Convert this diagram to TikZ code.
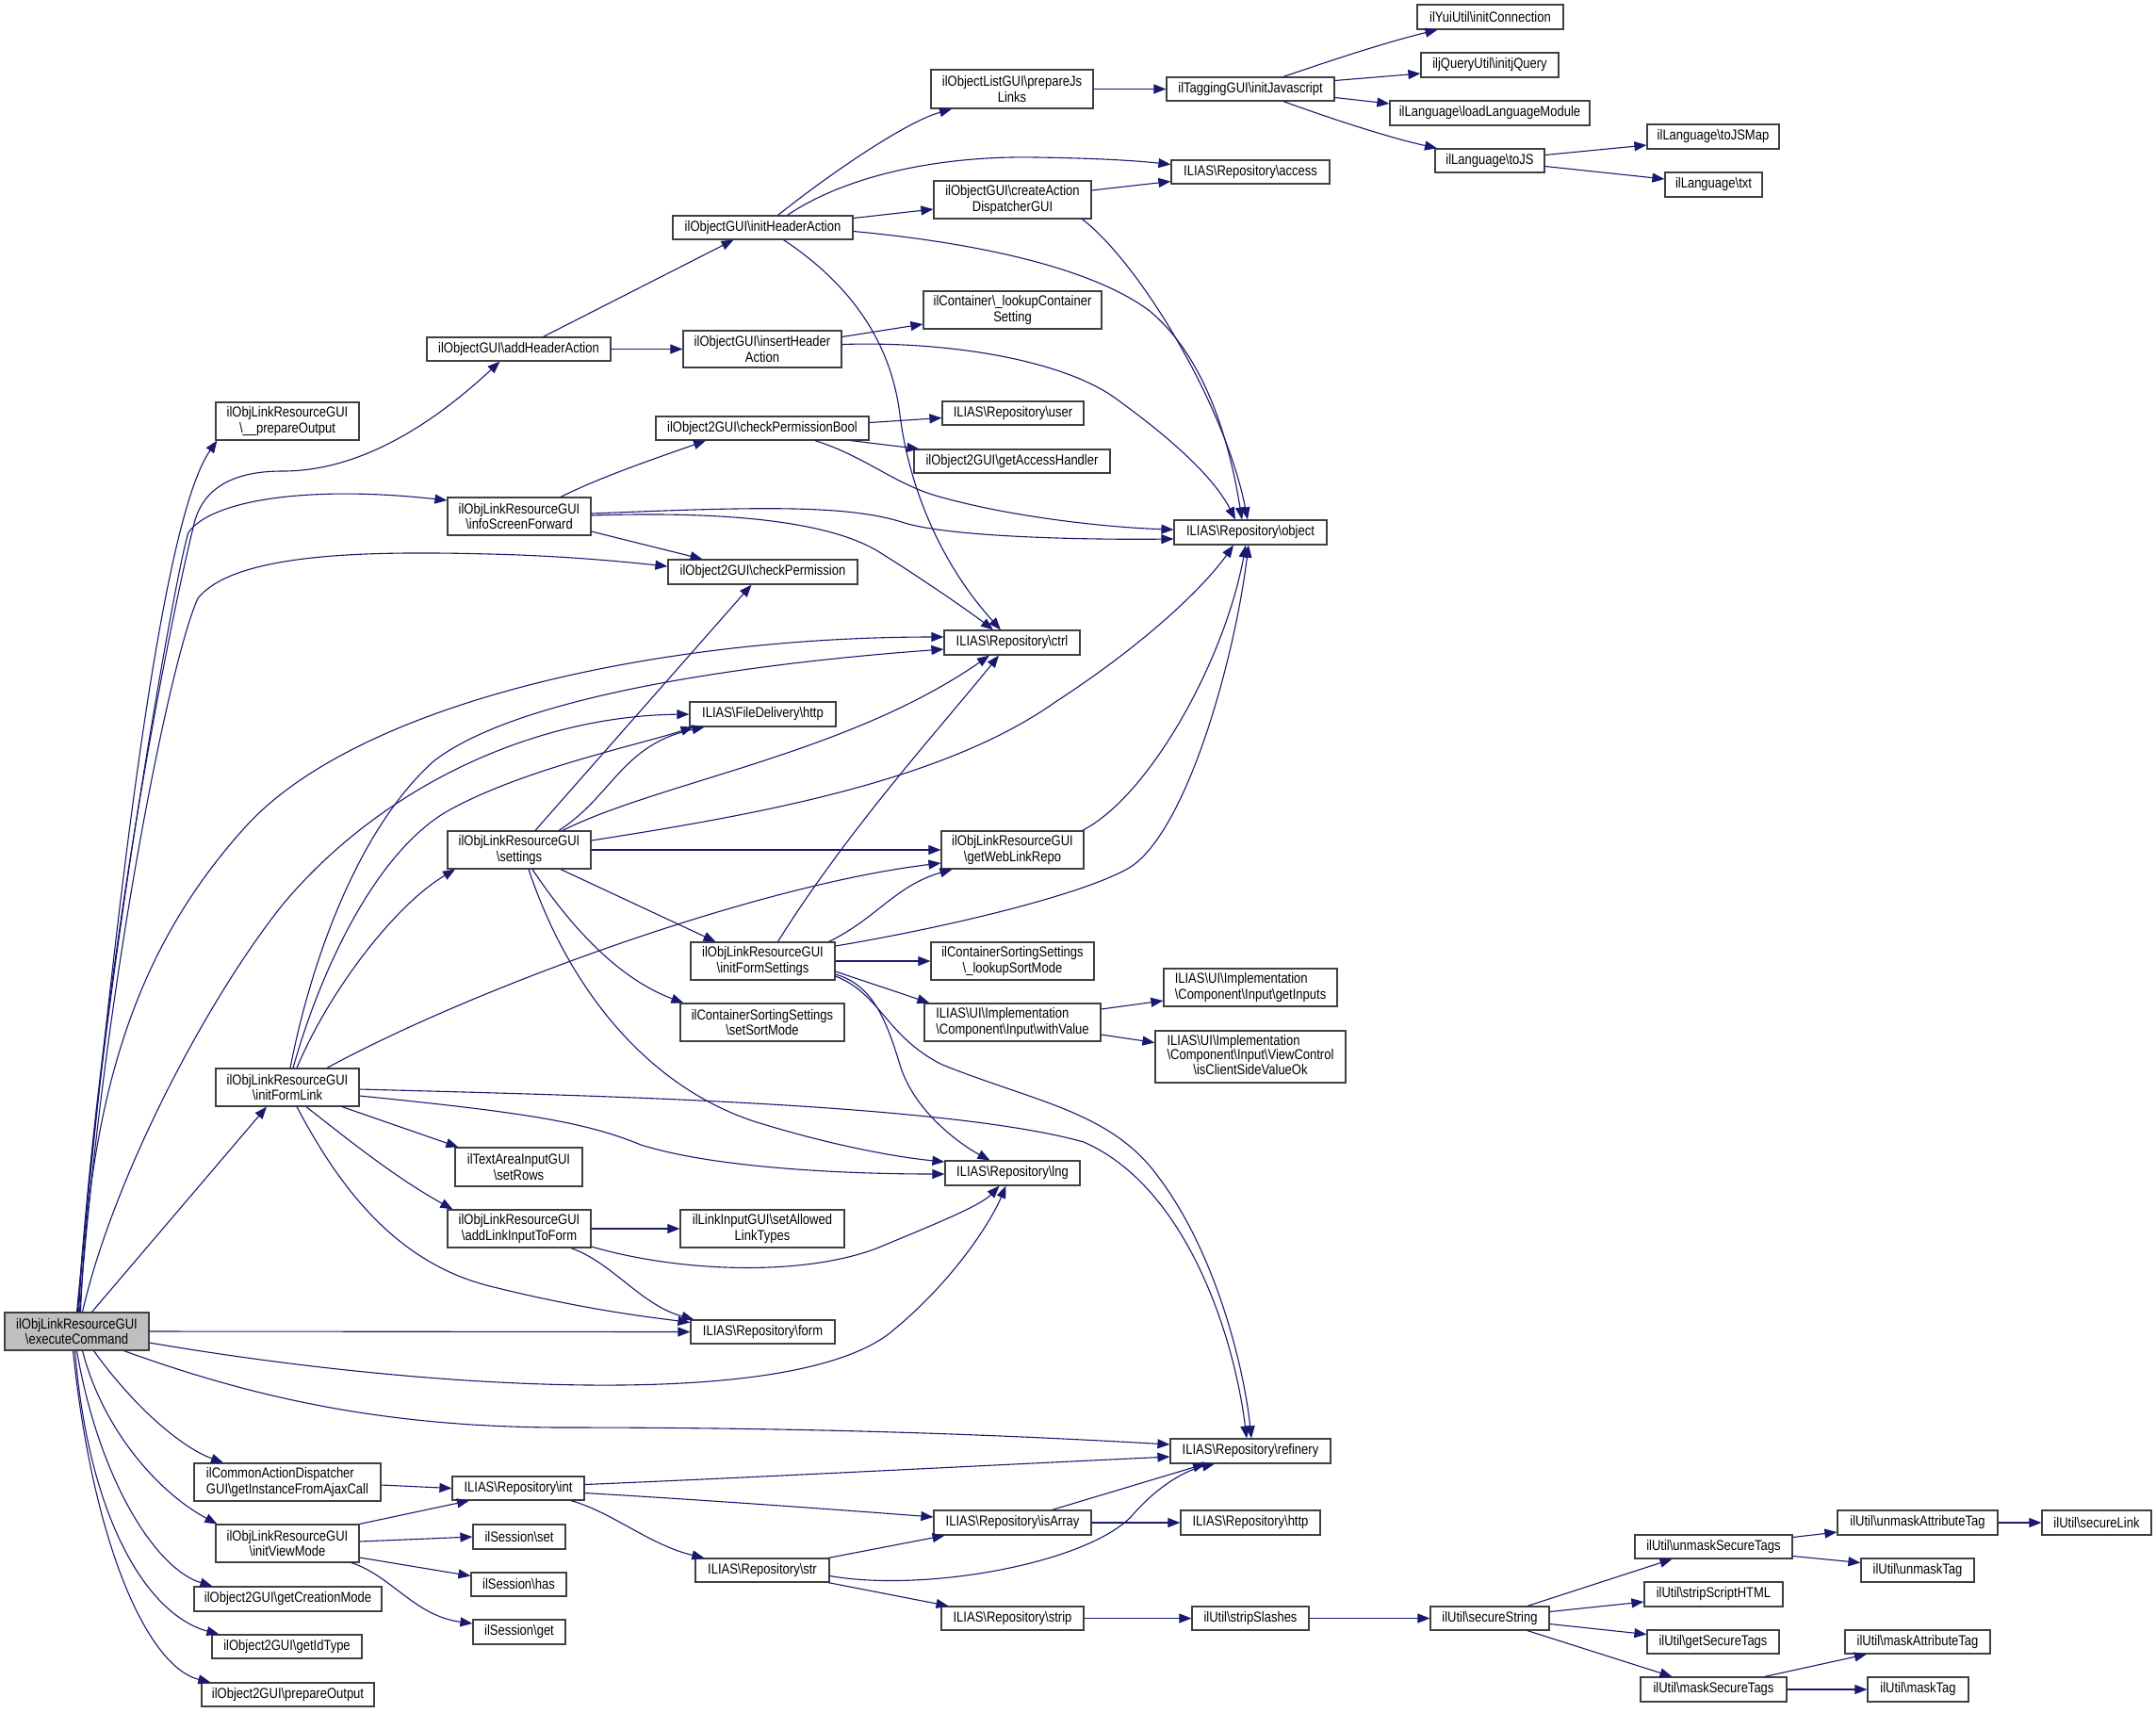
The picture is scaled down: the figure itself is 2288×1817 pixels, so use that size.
\documentclass[tikz,border=0pt]{standalone}
\usepackage{fontspec}
\setmainfont[FakeStretch=0.85]{Liberation Sans}
\usetikzlibrary{arrows.meta}
\definecolor{edgeblue}{HTML}{191970}
\definecolor{nodegray}{HTML}{BFBFBF}
\definecolor{bordergray}{HTML}{404040}
\def\Bsl{\textbackslash}
\def\NdFont{\fontsize{7.65}{7.1}\selectfont}
\begin{document}
\begin{tikzpicture}[x=0.5pt,y=-0.5pt,
  nbox/.style={draw=bordergray, line width=0.6pt, fill=white, inner sep=0pt, align=center, font=\NdFont},
  bw/.style={minimum width=#1*0.5pt},
  bh/.style={minimum height=#1*0.5pt},
  cl/.style={draw=edgeblue, line width=0.55pt, -{Triangle[length=6.5pt,width=5pt]}}]
\useasboundingbox (0,0) rectangle (2288,1817);
% rank 0
\node[nbox, fill=nodegray, bw=153, bh=40] (E) at (81.5,1413) {ilObjLinkResourceGUI\\\Bsl executeCommand};
% rank 1
\node[nbox, bw=152, bh=40] (prepOut) at (305,447) {ilObjLinkResourceGUI\\\Bsl\_\_prepareOutput};
\node[nbox, bw=152, bh=40] (IFL) at (305,1154) {ilObjLinkResourceGUI\\\Bsl initFormLink};
\node[nbox, bw=198, bh=40, align=left] (ajax) at (305,1573) {ilCommonActionDispatcher\\GUI\Bsl getInstanceFromAjaxCall};
\node[nbox, bw=152, bh=40] (IVM) at (305,1638) {ilObjLinkResourceGUI\\\Bsl initViewMode};
\node[nbox, bw=199, bh=26] (gcm) at (305.5,1697) {ilObject2GUI\Bsl getCreationMode};
\node[nbox, bw=159, bh=25] (git) at (304.5,1747.5) {ilObject2GUI\Bsl getIdType};
\node[nbox, bw=183, bh=25] (pO) at (305.5,1798.5) {ilObject2GUI\Bsl prepareOutput};
% rank 2
\node[nbox, bw=195, bh=25] (addHA) at (550.5,370.5) {ilObjectGUI\Bsl addHeaderAction};
\node[nbox, bw=152, bh=40] (ISF) at (551,548) {ilObjLinkResourceGUI\\\Bsl infoScreenForward};
\node[nbox, bw=152, bh=40] (settings) at (551,902) {ilObjLinkResourceGUI\\\Bsl settings};
\node[nbox, bw=135, bh=41] (setRows) at (550.5,1238.5) {ilTextAreaInputGUI\\\Bsl setRows};
\node[nbox, bw=152, bh=40] (addLink) at (551,1304) {ilObjLinkResourceGUI\\\Bsl addLinkInputToForm};
\node[nbox, bw=140, bh=25] (int) at (550,1579.5) {ILIAS\Bsl Repository\Bsl int};
\node[nbox, bw=98, bh=26] (Sset) at (551,1631) {ilSession\Bsl set};
\node[nbox, bw=101, bh=25] (Shas) at (550.5,1681.5) {ilSession\Bsl has};
\node[nbox, bw=98, bh=26] (Sget) at (551,1732) {ilSession\Bsl get};
% rank 3
\node[nbox, bw=191, bh=25] (IHA) at (809.5,241.5) {ilObjectGUI\Bsl initHeaderAction};
\node[nbox, bw=168, bh=39] (insertHA) at (809,370.5) {ilObjectGUI\Bsl insertHeader\\Action};
\node[nbox, bw=226, bh=25] (CPB) at (809,454.5) {ilObject2GUI\Bsl checkPermissionBool};
\node[nbox, bw=201, bh=26] (CP) at (809.5,607) {ilObject2GUI\Bsl checkPermission};
\node[nbox, bw=155, bh=26] (fdhttp) at (809.5,758) {ILIAS\Bsl FileDelivery\Bsl http};
\node[nbox, bw=153, bh=40] (IFS) at (809.5,1020) {ilObjLinkResourceGUI\\\Bsl initFormSettings};
\node[nbox, bw=174, bh=40] (setSM) at (809,1085) {ilContainerSortingSettings\\\Bsl setSortMode};
\node[nbox, bw=174, bh=40] (setAllowed) at (809,1304) {ilLinkInputGUI\Bsl setAllowed\\LinkTypes};
\node[nbox, bw=153, bh=25] (form) at (809.5,1413.5) {ILIAS\Bsl Repository\Bsl form};
\node[nbox, bw=142, bh=25] (str) at (809,1666.5) {ILIAS\Bsl Repository\Bsl str};
% rank 4
\node[nbox, bw=172, bh=41] (prepJs) at (1074,94.5) {ilObjectListGUI\Bsl prepareJs\\Links};
\node[nbox, bw=167, bh=40] (createAD) at (1074.5,212) {ilObjectGUI\Bsl createAction\\DispatcherGUI};
\node[nbox, bw=189, bh=40] (lookupCS) at (1074.5,329) {ilContainer\Bsl\_lookupContainer\\Setting};
\node[nbox, bw=150, bh=25] (user) at (1075,438.5) {ILIAS\Bsl Repository\Bsl user};
\node[nbox, bw=208, bh=25] (getAH) at (1074,489.5) {ilObject2GUI\Bsl getAccessHandler};
\node[nbox, bw=144, bh=26] (ctrl) at (1074,682) {ILIAS\Bsl Repository\Bsl ctrl};
\node[nbox, bw=151, bh=40] (webLink) at (1074.5,902) {ilObjLinkResourceGUI\\\Bsl getWebLinkRepo};
\node[nbox, bw=173, bh=40] (lookupSM) at (1074.5,1020) {ilContainerSortingSettings\\\Bsl\_lookupSortMode};
\node[nbox, bw=187, bh=40, align=left] (withValue) at (1074.5,1085) {ILIAS\Bsl UI\Bsl Implementation\\\Bsl Component\Bsl Input\Bsl withValue};
\node[nbox, bw=143, bh=26] (lng) at (1074.5,1245) {ILIAS\Bsl Repository\Bsl lng};
\node[nbox, bw=167, bh=26] (isArray) at (1074.5,1616) {ILIAS\Bsl Repository\Bsl isArray};
\node[nbox, bw=151, bh=25] (strip) at (1074.5,1717.5) {ILIAS\Bsl Repository\Bsl strip};
% rank 5
\node[nbox, bw=178, bh=25] (initJS) at (1327,94.5) {ilTaggingGUI\Bsl initJavascript};
\node[nbox, bw=168, bh=25] (access) at (1327,182.5) {ILIAS\Bsl Repository\Bsl access};
\node[nbox, bw=162, bh=26] (object) at (1327,565) {ILIAS\Bsl Repository\Bsl object};
\node[nbox, bw=184, bh=40, align=left] (getInputs) at (1327,1048) {ILIAS\Bsl UI\Bsl Implementation\\\Bsl Component\Bsl Input\Bsl getInputs};
\node[nbox, bw=202, bh=55] (isClient) at (1327,1121.5) {\begin{tabular}{@{}l@{}}ILIAS\Bsl UI\Bsl Implementation\\\Bsl Component\Bsl Input\Bsl ViewControl\\\multicolumn{1}{@{}c@{}}{\Bsl isClientSideValueOk}\end{tabular}};
\node[nbox, bw=170, bh=26] (refinery) at (1327,1540) {ILIAS\Bsl Repository\Bsl refinery};
\node[nbox, bw=148, bh=26] (rhttp) at (1327,1616) {ILIAS\Bsl Repository\Bsl http};
\node[nbox, bw=124, bh=25] (stripSlashes) at (1327,1717.5) {ilUtil\Bsl stripSlashes};
% rank 6
\node[nbox, bw=155, bh=26] (initConn) at (1581.5,18) {ilYuiUtil\Bsl initConnection};
\node[nbox, bw=146, bh=26] (initjQ) at (1581,69) {iljQueryUtil\Bsl initjQuery};
\node[nbox, bw=212, bh=26] (loadLM) at (1581,120) {ilLanguage\Bsl loadLanguageModule};
\node[nbox, bw=116, bh=25] (toJS) at (1581,170.5) {ilLanguage\Bsl toJS};
\node[nbox, bw=126, bh=25] (secureString) at (1581,1717.5) {ilUtil\Bsl secureString};
% rank 7
\node[nbox, bw=140, bh=26] (toJSMap) at (1818,145) {ilLanguage\Bsl toJSMap};
\node[nbox, bw=103, bh=26] (txt) at (1818.5,196) {ilLanguage\Bsl txt};
\node[nbox, bw=167, bh=25] (unmaskST) at (1818.5,1641.5) {ilUtil\Bsl unmaskSecureTags};
\node[nbox, bw=147, bh=26] (stripSH) at (1818.5,1692) {ilUtil\Bsl stripScriptHTML};
\node[nbox, bw=140, bh=25] (getST) at (1818,1742.5) {ilUtil\Bsl getSecureTags};
\node[nbox, bw=155, bh=26] (maskST) at (1818.5,1793) {ilUtil\Bsl maskSecureTags};
% rank 8
\node[nbox, bw=170, bh=26] (unmaskAT) at (2035,1616) {ilUtil\Bsl unmaskAttributeTag};
\node[nbox, bw=120, bh=25] (unmaskTag) at (2035,1666.5) {ilUtil\Bsl unmaskTag};
\node[nbox, bw=154, bh=25] (maskAT) at (2035,1742.5) {ilUtil\Bsl maskAttributeTag};
\node[nbox, bw=107, bh=26] (maskTag) at (2035.5,1793) {ilUtil\Bsl maskTag};
% rank 9
\node[nbox, bw=116, bh=26] (secureLink) at (2225,1616) {ilUtil\Bsl secureLink};

% ---- edges from executeCommand
\draw[cl] (E.north) .. controls (115,1050) and (165,560) .. ([xshift=1pt]prepOut.south west);
\draw[cl] ([xshift=0.5pt]E.north) .. controls (110,1000) and (185,640) .. (205,560) .. controls (215,510) and (260,500) .. (300,500) .. controls (390,500) and (470,440) .. ([xshift=-10pt]addHA.south);
\draw[cl] ([xshift=1pt]E.north) .. controls (100,1100) and (185,610) .. (200,565) .. controls (225,530) and (330,515) .. ([yshift=8.5pt]ISF.west);
\draw[cl] ([xshift=1.5pt]E.north) .. controls (110,1050) and (180,700) .. (210,635) .. controls (250,585) and (400,585) .. (520,588) .. controls (600,590) and (660,596) .. ([yshift=3pt]CP.west);
\draw[cl] ([xshift=2pt]E.north) .. controls (95,1150) and (150,1000) .. (260,878) .. controls (380,745) and (700,676) .. ([yshift=3pt]ctrl.west);
\draw[cl] ([xshift=3pt]E.north) .. controls (120,1250) and (220,1060) .. (300,960) .. controls (400,840) and (560,760) .. (fdhttp.west);
\draw[cl] ([xshift=8pt]E.north) -- ([xshift=-11pt]IFL.south);
\draw[cl] (E.east) -- (form.west);
\draw[cl] ([yshift=-6pt]E.east) .. controls (450,1475) and (850,1500) .. (950,1410) .. controls (1010,1360) and (1050,1300) .. ([xshift=-3.5pt]lng.south);
\draw[cl] ([xshift=25pt]E.south) .. controls (260,1480) and (400,1515) .. (600,1515) .. controls (900,1515) and (1100,1525) .. ([yshift=3.5pt]refinery.west);
\draw[cl] ([xshift=9pt]E.south) .. controls (140,1490) and (190,1535) .. ([xshift=-34pt]ajax.north);
\draw[cl] ([xshift=3pt]E.south) .. controls (110,1520) and (170,1585) .. ([xshift=1pt]IVM.north west);
\draw[cl] (E.south) .. controls (105,1570) and (165,1665) .. ([xshift=10pt]gcm.north west);
\draw[cl] ([xshift=-1pt]E.south) .. controls (95,1620) and (160,1715) .. ([xshift=4pt]git.north west);
\draw[cl] ([xshift=-2pt]E.south) .. controls (100,1650) and (160,1770) .. ([xshift=5pt]pO.north west);

% ---- initFormLink
\draw[cl] ([xshift=5pt]IFL.north) .. controls (350,1050) and (420,960) .. ([xshift=-34pt]settings.south);
\draw[cl] ([xshift=1.5pt]IFL.north) .. controls (330,1020) and (380,880) .. (460,808) .. controls (560,730) and (850,700) .. ([yshift=-3.5pt]ctrl.west);
\draw[cl] ([xshift=3pt]IFL.north) .. controls (340,1030) and (400,900) .. (480,858) .. controls (560,815) and (680,790) .. ([xshift=-37pt]fdhttp.south);
\draw[cl] ([xshift=21pt]IFL.north) .. controls (500,1050) and (800,940) .. ([yshift=-7pt]webLink.west);
\draw[cl] ([xshift=29pt]IFL.south) -- ([xshift=2pt]setRows.north west);
\draw[cl] ([xshift=10pt]IFL.south) .. controls (370,1210) and (420,1250) .. ([xshift=3pt]addLink.north west);
\draw[cl] ([yshift=-4.5pt]IFL.east) .. controls (550,1180) and (620,1190) .. (680,1215) .. controls (760,1240) and (900,1246) .. ([yshift=-0.5pt]lng.west);
\draw[cl] ([yshift=-1pt]IFL.east) .. controls (600,1162) and (1000,1170) .. (1150,1212) .. controls (1260,1260) and (1310,1420) .. ([xshift=-2pt]refinery.north);
\draw[cl] ([xshift=5pt]IFL.south) .. controls (360,1260) and (420,1340) .. (520,1365) .. controls (620,1390) and (690,1398) .. ([yshift=5pt]form.west);

% ---- settings
\draw[cl] ([xshift=8.5pt]settings.north) -- ([xshift=-6pt]CP.south);
\draw[cl] ([xshift=21pt]settings.north) .. controls (650,845) and (660,790) .. ([xshift=-31pt]fdhttp.south);
\draw[cl] ([xshift=23pt]settings.north) .. controls (700,830) and (900,800) .. ([xshift=-12pt]ctrl.south);
\draw[cl] ([yshift=5pt]settings.east) .. controls (800,865) and (1000,830) .. (1120,745) .. controls (1220,680) and (1280,620) .. ([xshift=-9pt]object.south);
\draw[cl] (settings.east) -- (webLink.west);
\draw[cl] ([xshift=22pt]settings.south) -- ([xshift=-25pt]IFS.north);
\draw[cl] ([xshift=7pt]settings.south) .. controls (610,990) and (660,1040) .. ([xshift=2pt]setSM.north west);
\draw[cl] ([xshift=5pt]settings.south) .. controls (600,1040) and (680,1150) .. (800,1190) .. controls (880,1215) and (950,1228) .. ([yshift=6pt]lng.west);

% ---- infoScreenForward
\draw[cl] ([xshift=22pt]ISF.north) .. controls (640,505) and (700,485) .. ([xshift=-30pt]CPB.south);
\draw[cl] ([yshift=-8pt]ISF.east) -- ([xshift=-32pt]CP.north);
\draw[cl] ([yshift=1.5pt]ISF.east) .. controls (800,538) and (900,535) .. (960,555) .. controls (1010,570) and (1150,573) .. ([yshift=-3.5pt]object.west);
\draw[cl] ([yshift=0.5pt]ISF.east) .. controls (780,542) and (880,555) .. (930,584) .. controls (980,615) and (1030,650) .. ([xshift=-10pt]ctrl.north);

% ---- checkPermissionBool
\draw[cl] ([yshift=3pt]CPB.east) -- ([yshift=-2.5pt]user.west);
\draw[cl] ([xshift=47pt]CPB.south) -- ([xshift=3pt]getAH.north west);
\draw[cl] ([xshift=28pt]CPB.south) .. controls (920,485) and (950,515) .. (1000,528) .. controls (1080,550) and (1180,560) .. ([yshift=1.5pt]object.west);

% ---- addHeaderAction
\draw[cl] ([xshift=13pt]addHA.north) -- ([xshift=-15.5pt]IHA.south);
\draw[cl] (addHA.east) -- (insertHA.west);

% ---- initHeaderAction
\draw[cl] ([xshift=8pt]IHA.north) .. controls (880,185) and (960,130) .. ([xshift=-32pt]prepJs.south);
\draw[cl] ([xshift=13pt]IHA.north) .. controls (900,185) and (1000,165) .. (1100,167) .. controls (1170,168) and (1210,171) .. ([yshift=4pt]access.west);
\draw[cl] ([yshift=5pt]IHA.east) -- ([yshift=-5pt]createAD.west);
\draw[cl] ([yshift=-2pt]IHA.east) .. controls (1040,258) and (1160,285) .. (1220,330) .. controls (1280,380) and (1305,470) .. ([xshift=-4.5pt]object.north);
\draw[cl] ([xshift=11pt]IHA.south) .. controls (900,300) and (945,360) .. (955,440) .. controls (965,520) and (1000,600) .. ([xshift=-6pt]ctrl.north);

% ---- createActionDispatcherGUI
\draw[cl] ([yshift=5pt]createAD.east) -- ([yshift=-5pt]access.west);
\draw[cl] ([xshift=37pt]createAD.south) .. controls (1210,280) and (1300,430) .. ([xshift=-1.5pt]object.north);

% ---- prepareJsLinks, initJavascript, toJS
\draw[cl] (prepJs.east) -- (initJS.west);
\draw[cl] ([xshift=17.5pt]initJS.north) .. controls (1410,65) and (1470,45) .. ([xshift=-28pt]initConn.south);
\draw[cl] ([yshift=4.5pt]initJS.east) -- ([yshift=-4.5pt]initjQ.west);
\draw[cl] ([yshift=-4.5pt]initJS.east) -- ([yshift=5pt]loadLM.west);
\draw[cl] ([xshift=17.5pt]initJS.south) .. controls (1410,125) and (1470,145) .. ([xshift=-28pt]toJS.north);
\draw[cl] ([yshift=3pt]toJS.east) -- ([yshift=-4.5pt]toJSMap.west);
\draw[cl] ([yshift=-3pt]toJS.east) -- ([yshift=3pt]txt.west);

% ---- insertHeaderAction
\draw[cl] ([yshift=6.5pt]insertHA.east) -- ([yshift=-7.5pt]lookupCS.west);
\draw[cl] ([yshift=2.5pt]insertHA.east) .. controls (1000,362) and (1120,380) .. (1180,420) .. controls (1250,470) and (1290,510) .. ([xshift=-8pt]object.north);

% ---- initFormSettings
\draw[cl] ([xshift=8pt]IFS.north) .. controls (900,880) and (1000,770) .. ([xshift=-7pt]ctrl.south);
\draw[cl] ([xshift=35pt]IFS.north) .. controls (930,975) and (950,940) .. ([xshift=-32pt]webLink.south);
\draw[cl] ([yshift=8pt]IFS.east) .. controls (1000,985) and (1150,950) .. (1200,920) .. controls (1260,880) and (1310,700) .. ([xshift=-1pt]object.south);
\draw[cl] (IFS.east) -- (lookupSM.west);
\draw[cl] ([yshift=-5.5pt]IFS.east) -- ([xshift=3pt]withValue.north west);
\draw[cl] ([yshift=-7pt]IFS.east) .. controls (925,1045) and (940,1080) .. (955,1130) .. controls (970,1180) and (1020,1215) .. ([xshift=-12pt]lng.north);
\draw[cl] ([yshift=-8pt]IFS.east) .. controls (935,1055) and (940,1100) .. (1000,1130) .. controls (1100,1170) and (1180,1180) .. (1230,1250) .. controls (1290,1330) and (1320,1450) .. ([xshift=0.5pt]refinery.north);

% ---- getWebLinkRepo, withValue
\draw[cl] ([xshift=37pt]webLink.north) .. controls (1220,845) and (1300,700) .. ([xshift=-2.5pt]object.south);
\draw[cl] ([yshift=7pt]withValue.east) -- ([yshift=-7pt]getInputs.west);
\draw[cl] ([yshift=-6.5pt]withValue.east) -- ([yshift=7.5pt]isClient.west);

% ---- addLinkInputToForm
\draw[cl] (addLink.east) -- (setAllowed.west);
\draw[cl] ([yshift=-9.5pt]addLink.east) .. controls (720,1350) and (850,1355) .. (930,1325) .. controls (990,1300) and (1040,1280) .. ([xshift=-7pt]lng.south);
\draw[cl] ([xshift=27.5pt]addLink.south) .. controls (650,1340) and (680,1385) .. ([xshift=2pt]form.north west);

% ---- getInstanceFromAjaxCall, initViewMode
\draw[cl] ([yshift=-1.5pt]ajax.east) -- (int.west);
\draw[cl] (IVM.north east) -- ([xshift=-26pt]int.south);
\draw[cl] ([yshift=1pt]IVM.east) -- (Sset.west);
\draw[cl] ([yshift=-7.5pt]IVM.east) -- ([yshift=4.5pt]Shas.west);
\draw[cl] ([xshift=34pt]IVM.south) .. controls (415,1672) and (440,1715) .. ([yshift=4.5pt]Sget.west);

% ---- int, isArray, str, strip
\draw[cl] ([yshift=2pt]int.east) .. controls (800,1568) and (1050,1555) .. ([yshift=-3pt]refinery.west);
\draw[cl] ([yshift=-2.5pt]int.east) .. controls (750,1592) and (900,1603) .. ([yshift=3pt]isArray.west);
\draw[cl] ([xshift=28pt]int.south) .. controls (650,1605) and (690,1640) .. ([xshift=5pt]str.north west);
\draw[cl] ([xshift=21pt]isArray.north) -- ([xshift=-24pt]refinery.south);
\draw[cl] (isArray.east) -- (rhttp.west);
\draw[cl] ([xshift=35pt]str.north) -- ([xshift=-36pt]isArray.south);
\draw[cl] ([yshift=-3pt]str.east) .. controls (980,1690) and (1150,1660) .. (1200,1610) .. controls (1230,1575) and (1260,1560) .. ([xshift=-19pt]refinery.south);
\draw[cl] ([xshift=35pt]str.south) -- ([xshift=-34pt]strip.north);
\draw[cl] (strip.east) -- (stripSlashes.west);
\draw[cl] (stripSlashes.east) -- (secureString.west);

% ---- secureString and below
\draw[cl] ([xshift=20pt]secureString.north) -- ([xshift=-22pt]unmaskST.south);
\draw[cl] ([yshift=3.5pt]secureString.east) -- ([yshift=-4pt]stripSH.west);
\draw[cl] ([yshift=-3pt]secureString.east) -- ([yshift=4pt]getST.west);
\draw[cl] ([xshift=20pt]secureString.south) -- ([xshift=-22pt]maskST.north);
\draw[cl] ([yshift=5pt]unmaskST.east) -- ([yshift=-5pt]unmaskAT.west);
\draw[cl] ([yshift=-5pt]unmaskST.east) -- ([yshift=4pt]unmaskTag.west);
\draw[cl] (unmaskAT.east) -- (secureLink.west);
\draw[cl] ([xshift=27pt]maskST.north) -- ([xshift=-27pt]maskAT.south);
\draw[cl] (maskST.east) -- (maskTag.west);
\end{tikzpicture}
\end{document}
